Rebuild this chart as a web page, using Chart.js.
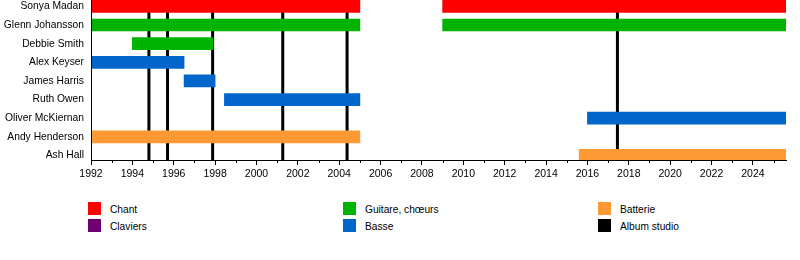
<!DOCTYPE html>
<html>
<head>
<meta charset="utf-8">
<script src="https://cdn.jsdelivr.net/npm/chart.js@4"></script>
<style>
html,body{margin:0;padding:0;background:#fff;}
#wrap{position:relative;width:800px;height:260px;overflow:hidden;}
canvas{position:absolute;left:0;top:0;}
.lg{position:absolute;font-family:"Liberation Sans",Arial,sans-serif;font-size:10.2px;color:#000;white-space:nowrap;}
.sw{position:absolute;width:13px;height:13px;}
</style>
</head>
<body>
<div id="wrap"><canvas id="c" width="800" height="185"></canvas></div>
<script>
// ---- data ----
const members = ['Sonya Madan','Glenn Johansson','Debbie Smith','Alex Keyser','James Harris','Ruth Owen','Oliver McKiernan','Andy Henderson','Ash Hall'];
const roles = ['Chant','Claviers','Guitare, chœurs','Basse','Batterie'];
const roleColors = ['#ff0000','#6e0070','#00b300','#0066cc','#ff9933'];
const chantSpans = [
  {member:'Sonya Madan', from:1992, to:2005},
  {member:'Sonya Madan', from:2009, to:2025.6}
];
const clavierSpans = [];
const guitareSpans = [
  {member:'Glenn Johansson', from:1992, to:2005},
  {member:'Glenn Johansson', from:2009, to:2025.6},
  {member:'Debbie Smith', from:1994, to:1997.9}
];
const basseSpans = [
  {member:'Alex Keyser', from:1992, to:1996.5},
  {member:'James Harris', from:1996.5, to:1998},
  {member:'Ruth Owen', from:1998.45, to:2005},
  {member:'Oliver McKiernan', from:2016, to:2025.6}
];
const batterieSpans = [
  {member:'Andy Henderson', from:1992, to:2005},
  {member:'Ash Hall', from:2015.6, to:2025.6}
];
const albumYears = [1994.8, 1995.7, 1997.88, 2001.27, 2004.38, 2017.45];
const startYear = 1992;
const endYear = 2025.6;
const legendLabels = ['Chant','Claviers','Guitare, chœurs','Basse','Batterie','Album studio'];
const legendColors = ['#ff0000','#6e0070','#00b300','#0066cc','#ff9933','#000000'];

// ---- chart ----
const FONT = '"Liberation Sans", Arial, sans-serif';
Chart.defaults.font.family = FONT;
Chart.defaults.font.size = 10.5;
Chart.defaults.color = '#000';

const spanSets = [chantSpans, clavierSpans, guitareSpans, basseSpans, batterieSpans];
const datasets = spanSets.map((spans, i) => ({
  label: roles[i],
  data: spans.map(s => ({x:[s.from, s.to], y: members.indexOf(s.member)})),
  backgroundColor: roleColors[i],
  borderWidth: 0,
  barThickness: 12,
  grouped: false
}));

const albumPlugin = {
  id: 'albums',
  beforeDatasetsDraw(chart) {
    const {ctx, chartArea, scales} = chart;
    ctx.save();
    ctx.strokeStyle = '#000';
    ctx.lineWidth = 3;
    albumYears.forEach(y => {
      const px = scales.x.getPixelForValue(y);
      ctx.beginPath();
      ctx.moveTo(px, chartArea.top);
      ctx.lineTo(px, chartArea.bottom);
      ctx.stroke();
    });
    ctx.restore();
  },
  afterDraw(chart) {
    const {ctx, chartArea, scales} = chart;
    ctx.save();
    ctx.strokeStyle = '#000';
    ctx.lineWidth = 1;
    for (let yr = Math.ceil(startYear); yr <= endYear; yr++) {
      if (yr % 2 === 0) continue;
      const px = Math.round(scales.x.getPixelForValue(yr)) + 0.5;
      ctx.beginPath();
      ctx.moveTo(px, chartArea.bottom);
      ctx.lineTo(px, chartArea.bottom + 3);
      ctx.stroke();
    }
    // member names on the y axis
    ctx.fillStyle = '#000';
    ctx.font = '10.3px ' + FONT;
    ctx.textAlign = 'right';
    ctx.textBaseline = 'middle';
    members.forEach((m, i) => {
      ctx.fillText(m, chartArea.left - 7, scales.y.getPixelForValue(i));
    });
    ctx.restore();
  }
};

new Chart(document.getElementById('c'), {
  type: 'bar',
  data: { datasets },
  options: {
    indexAxis: 'y',
    responsive: false,
    animation: false,
    devicePixelRatio: 1,
    layout: { padding: { left: 0, right: 14, top: 0, bottom: 0 } },
    plugins: { legend: { display: false }, tooltip: { enabled: false } },
    scales: {
      x: {
        type: 'linear',
        min: startYear,
        max: endYear,
        afterBuildTicks(scale) {
          const t = [];
          for (let yr = Math.ceil(startYear); yr <= endYear; yr++) t.push({value: yr});
          scale.ticks = t;
        },
        afterFit(scale) { scale.height = 25; },
        ticks: {
          autoSkip: false, maxRotation: 0, padding: 3,
          callback: v => (v % 2 === 0 ? String(v) : '')
        },
        grid: {
          drawOnChartArea: false, tickLength: 5,
          tickColor: ctx => (ctx.tick && ctx.tick.value % 2 === 0 ? '#000' : 'rgba(0,0,0,0)')
        },
        border: { display: true, color: '#000', width: 1, z: 1 }
      },
      y: {
        type: 'linear',
        reverse: true,
        offset: false,
        min: -0.344,
        max: 8.244,
        afterFit(scale) { scale.width = 91; },
        ticks: { display: false },
        grid: { drawOnChartArea: false, drawTicks: false, offset: false },
        border: { display: true, color: '#000', width: 1, z: 1 }
      }
    }
  },
  plugins: [albumPlugin]
});

// ---- legend (HTML) ----
const wrap = document.getElementById('wrap');
const colX = [88, 343, 598];
const rowY = [202, 219];
legendLabels.forEach((lab, i) => {
  const col = Math.floor(i / 2), row = i % 2;
  const sw = document.createElement('div');
  sw.className = 'sw';
  sw.style.left = colX[col] + 'px';
  sw.style.top = rowY[row] + 'px';
  sw.style.background = legendColors[i];
  wrap.appendChild(sw);
  const t = document.createElement('div');
  t.className = 'lg';
  t.textContent = lab;
  t.style.left = (colX[col] + 22) + 'px';
  t.style.top = (rowY[row] + 1) + 'px';
  t.style.lineHeight = '13px';
  wrap.appendChild(t);
});
</script>
</body>
</html>
